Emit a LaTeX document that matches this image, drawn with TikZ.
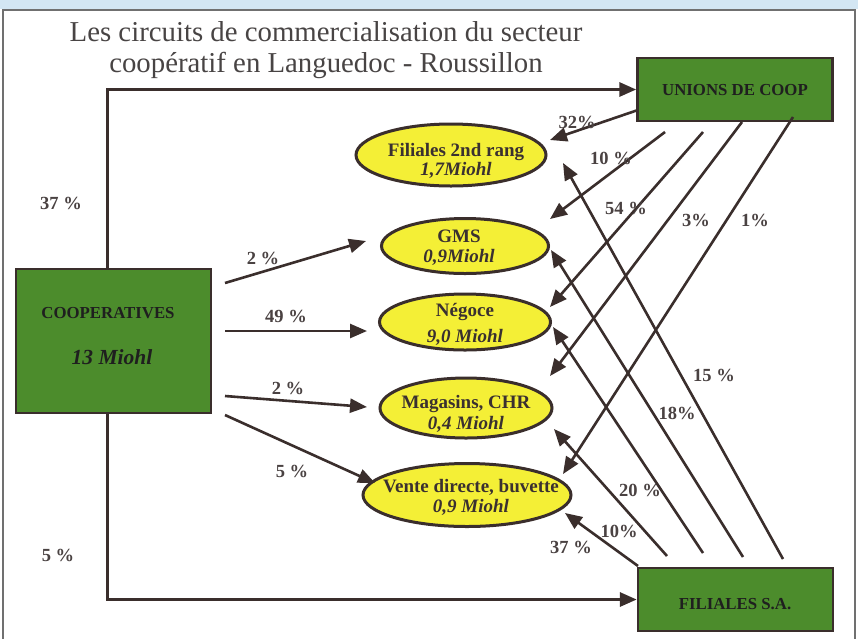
\documentclass[tikz,border=0pt]{standalone}
\usepackage{fontspec}
\setmainfont{Liberation Serif}
\usetikzlibrary{arrows.meta,shapes.geometric}
\definecolor{ink}{HTML}{3A2E2C}
\definecolor{boxgreen}{HTML}{4C8C2C}
\definecolor{ellyellow}{HTML}{F4EF36}
\definecolor{txt}{HTML}{3A3030}
\definecolor{lbl}{HTML}{4A4242}
\definecolor{sky}{HTML}{D3E6F3}
\definecolor{framegrey}{HTML}{707070}
\definecolor{titlegrey}{HTML}{484444}
\begin{document}
\begin{tikzpicture}[x=1pt,y=-1pt,
  greenbox/.style={draw=ink, line width=2.5pt, fill=boxgreen, inner sep=0pt},
  boxtext/.style={font=\fontsize{16.8}{19}\selectfont\bfseries, text=black!88, inner sep=0pt},
  oval/.style={ellipse, draw=ink, line width=3pt, fill=ellyellow, inner sep=0pt},
  ovaltext/.style={align=center, text=txt, inner sep=0pt, font=\fontsize{19}{21}\selectfont\bfseries},
  pct/.style={font=\fontsize{18.5}{20}\selectfont\bfseries, text=lbl, inner sep=0pt},
  flow/.style={draw=ink, line width=2.6pt, -{Triangle[length=17pt,width=14pt]}},
]
\useasboundingbox (0,0) rectangle (858,638);
% background and frame
\fill[white] (0,0) rectangle (858,638);
\fill[sky] (0,0) rectangle (858,9);
\draw[framegrey, line width=1.3pt] (3,640) -- (3,10) -- (855,10) -- (855,640);

% title
\node[align=center, text=titlegrey, inner sep=0pt, font=\fontsize{28.8}{31}\selectfont] (title) at (326,50)
  {Les circuits de commercialisation du secteur\\coopératif en Languedoc - Roussillon};

% boxes
\node[greenbox, minimum width=195pt, minimum height=63pt] (unions) at (735,89.5) {};
\node[boxtext] (unionst) at (735,90) {UNIONS DE COOP};
\node[greenbox, minimum width=195pt, minimum height=63pt] (filsa) at (735.5,599.5) {};
\node[boxtext] (filsat) at (735,604) {FILIALES S.A.};
\node[greenbox, minimum width=195pt, minimum height=144pt] (coop) at (113.5,341) {};
\node[boxtext] (coopt) at (108,313) {COOPERATIVES};
\node[boxtext, font=\fontsize{21.5}{23}\selectfont\bfseries\itshape] (coopm) at (112,357) {13 Miohl};

% ellipses
\node[oval, minimum width=190pt, minimum height=62pt] (fil2) at (451,155) {};
\node[ovaltext] (fil2t) at (456,161) {Filiales 2nd rang\\[-2pt]\textit{1,7Miohl}};
\node[oval, minimum width=167pt, minimum height=55pt] (gms) at (465,246) {};
\node[ovaltext] (gmst) at (459,248) {GMS\\[-1pt]\textit{0,9Miohl}};
\node[oval, minimum width=171pt, minimum height=56pt] (nego) at (465,322) {};
\node[ovaltext] (negot) at (465,324) {Négoce\\[5pt]\textit{9,0 Miohl}};
\node[oval, minimum width=172pt, minimum height=60pt] (mag) at (466,408) {};
\node[ovaltext] (magt) at (466,414) {Magasins, CHR\\[0pt]\textit{0,4 Miohl}};
\node[oval, minimum width=208pt, minimum height=63pt] (vente) at (467,495) {};
\node[ovaltext] (ventet) at (471,497) {Vente directe, buvette\\[-1pt]\textit{0,9 Miohl}};

% main frame arrows from cooperatives
\draw[flow, line width=3.2pt] ([xshift=-6pt]coop.north) |- (unions.west);
\draw[flow, line width=3.2pt] ([xshift=-6pt]coop.south) |- (filsa.west);

% arrows from cooperatives to ellipses
\coordinate (cA) at (225,283); \coordinate (tA) at (366,241);
\coordinate (cB) at (225,331); \coordinate (tB) at (367,331);
\coordinate (cC) at (225,396); \coordinate (tC) at (367,407);
\coordinate (cD) at (225,415); \coordinate (tD) at (375,483);
\draw[flow] (cA) -- (tA);
\draw[flow] (cB) -- (tB);
\draw[flow] (cC) -- (tC);
\draw[flow] (cD) -- (tD);

% arrows from unions
\coordinate (uA) at (638,110); \coordinate (vA) at (550,140);
\coordinate (uB) at (665,132); \coordinate (vB) at (550,219);
\coordinate (uC) at (703,132); \coordinate (vC) at (550,307);
\coordinate (uD) at (742,122); \coordinate (vD) at (550,376);
\coordinate (uE) at (793,117); \coordinate (vE) at (563,474);
\draw[flow] (uA) -- (vA);
\draw[flow] (uB) -- (vB);
\draw[flow] (uC) -- (vC);
\draw[flow] (uD) -- (vD);
\draw[flow] (uE) -- (vE);

% arrows from filiales s.a.
\coordinate (fA) at (638,566); \coordinate (wA) at (565,513);
\coordinate (fB) at (667,556); \coordinate (wB) at (554,429);
\coordinate (fC) at (703,553); \coordinate (wC) at (553,327);
\coordinate (fD) at (743,557); \coordinate (wD) at (551,250);
\coordinate (fE) at (783,559); \coordinate (wE) at (563,163);
\draw[flow] (fA) -- (wA);
\draw[flow] (fB) -- (wB);
\draw[flow] (fC) -- (wC);
\draw[flow] (fD) -- (wD);
\draw[flow] (fE) -- (wE);

% percentage labels
\node[pct] (p37) at (61,203) {37 \%};
\node[pct] (p5) at (58,555) {5 \%};
\node[pct] (pA) at (263,258) {2 \%};
\node[pct] (pB) at (286,316) {49 \%};
\node[pct] (pC) at (288,388) {2 \%};
\node[pct] (pD) at (292,471) {5 \%};
\node[pct] (qA) at (577,122) {32\%};
\node[pct] (qB) at (611,158) {10 \%};
\node[pct] (qC) at (626,208) {54 \%};
\node[pct] (qD) at (696,220) {3\%};
\node[pct] (qE) at (755,220) {1\%};
\node[pct] (rA) at (571,547) {37 \%};
\node[pct] (rB) at (619,531) {10\%};
\node[pct] (rC) at (640,490) {20 \%};
\node[pct] (rD) at (677,413) {18\%};
\node[pct] (rE) at (714,375) {15 \%};
\end{tikzpicture}
\end{document}
